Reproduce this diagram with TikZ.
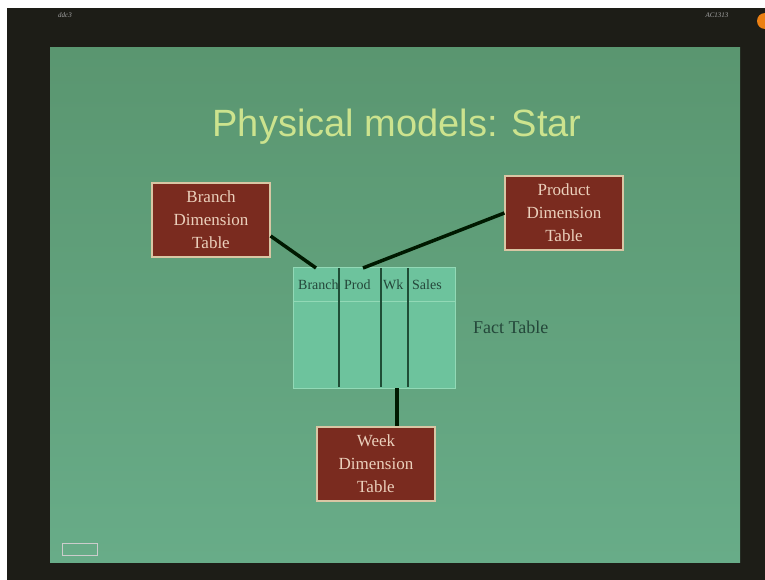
\documentclass[tikz,border=0pt]{standalone}
\usepackage{fontspec}
\setmainfont{Liberation Serif}
\newfontfamily\titlefont{Liberation Sans}
\usetikzlibrary{calc,positioning}
\definecolor{frame}{HTML}{1D1D17}
\definecolor{slidetop}{HTML}{5A9670}
\definecolor{slidebot}{HTML}{68AC88}
\definecolor{titlecol}{HTML}{CCE38E}
\definecolor{boxred}{HTML}{7A2B1F}
\definecolor{boxrim}{HTML}{D9C6A4}
\definecolor{boxtext}{HTML}{EBD0BC}
\definecolor{factfill}{HTML}{6DC39D}
\definecolor{factrim}{HTML}{92D9B6}
\definecolor{factline}{HTML}{1F4D36}
\definecolor{factext}{HTML}{24473A}
\tikzset{
  dimbox/.style={draw=boxrim,fill=boxred,text=boxtext,line width=1.2pt,
    minimum width=118pt,minimum height=74pt,align=center,
    font=\fontsize{17}{23}\selectfont},
  link/.style={draw=black!90!green,line width=3.5pt},
  colhead/.style={text=factext,font=\fontsize{14}{16}\selectfont,inner sep=0pt}
}
\begin{document}
\begin{tikzpicture}[x=1pt,y=-1pt]
  \useasboundingbox(0,0)rectangle(765,580);
  \fill[white](0,0)rectangle(765,580);
  \fill[frame](7,8)rectangle(765,580);
  %スライド
  \shade[top color=slidetop,bottom color=slidebot](50,48)rectangle(740,562);
  \node[text=gray!70,font=\itshape\fontsize{7}{8}\selectfont](tl)at(65,15){ddc3};
  \node[text=gray!70,font=\itshape\fontsize{7}{8}\selectfont](tr)at(717,15){AC1313};
  \fill[orange!70!brown](765,21)circle(8);
  \draw[gray!40,line width=0.8pt](62,543)rectangle(97,555);
  %タイトル
  \node[text=titlecol,font=\titlefont\fontsize{38}{40}\selectfont](title)at(397,127){Physical models: Star};
  %ディメンション
  \node[dimbox](branch)at(211,220){Branch\\Dimension\\Table};
  \node[dimbox](product)at(564,213){Product\\Dimension\\Table};
  \node[dimbox](week)at(376,464){Week\\Dimension\\Table};
  %ファクト表
  \node[draw=factrim,fill=factfill,line width=1pt,minimum width=162pt,minimum height=121pt,inner sep=0pt](fact)at(374,327.5){};
  \draw[factrim,line width=1pt](fact.west|-0,301)--(fact.east|-0,301);
  \foreach \cx in {339,381,408}
    \draw[factline,line width=1.3pt](\cx,268)--(\cx,387);
  \begin{scope}
    \clip(294,268)rectangle(338,300);
    \node[colhead,anchor=west](hb)at(298,285){Branch};
  \end{scope}
  \node[colhead,anchor=west](hp)at(344,285){Prod};
  \node[colhead,anchor=west](hw)at(383,285){Wk};
  \node[colhead,anchor=west](hs)at(412,285){Sales};
  \node[text=factext,font=\fontsize{18}{20}\selectfont,right=14pt of fact](label){Fact Table};
  %結線
  \coordinate(fb)at(316,268);
  \coordinate(fp)at(363,268);
  \coordinate(fw)at(397,388);
  \path[link](branch.-15)to(fb);
  \path[link](product.west)to(fp);
  \path[link](fw)to(fw|-week.north);
\end{tikzpicture}
\end{document}
